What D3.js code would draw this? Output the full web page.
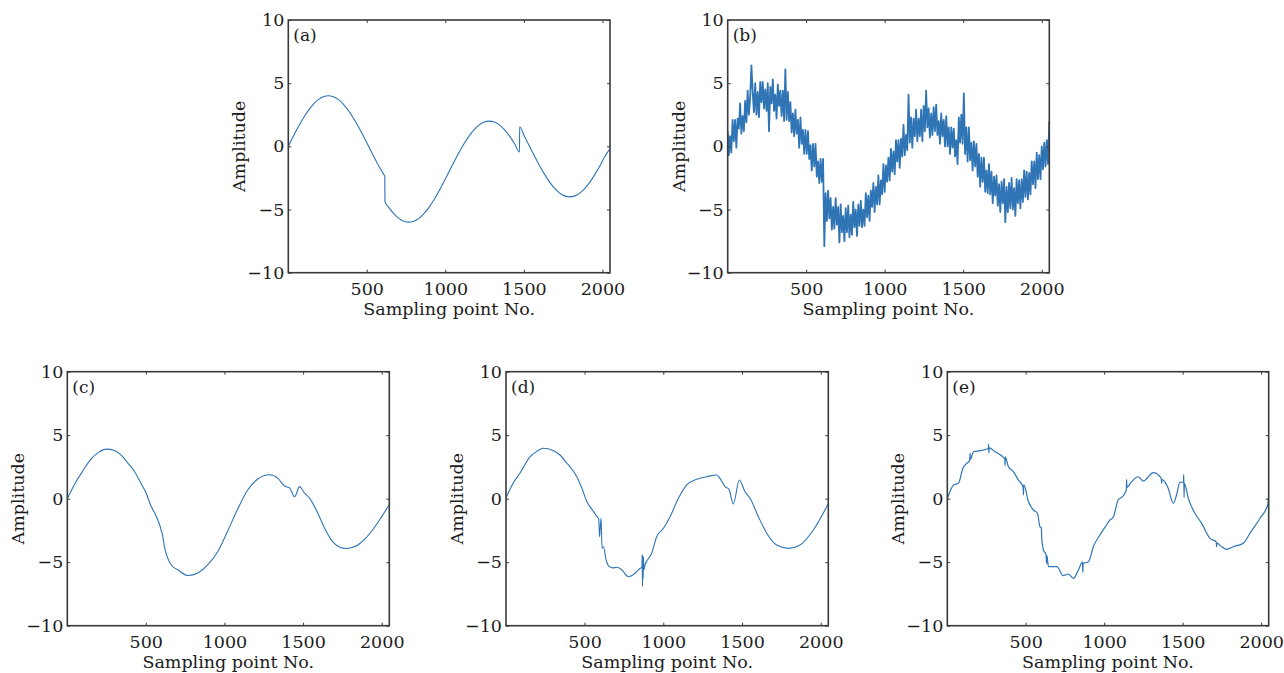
<!DOCTYPE html>
<html>
<head>
<meta charset="utf-8">
<script src="https://cdn.jsdelivr.net/npm/d3@7"></script>
<style>
  body { margin: 0; background: #fff; }
  svg text { font-family: "DejaVu Serif", serif; fill: #1c1c1c; }
</style>
</head>
<body>
<svg id="chart" width="1284" height="673"></svg>
<script>
// tick labels
const xTicks = [500, 1000, 1500, 2000];
const yTicks = [-10, -5, 0, 5, 10];

// (a) original signal with two jumps
const aN = [1, 32, 64, 96, 128, 160, 192, 224, 256, 288, 320, 352, 384, 416, 448, 480, 512, 544, 576, 608, 615, 616, 640, 672, 704, 736, 768, 800, 832, 864, 896, 928, 960, 992, 1024, 1056, 1088, 1120, 1152, 1184, 1216, 1248, 1280, 1312, 1344, 1376, 1408, 1440, 1472, 1473, 1504, 1536, 1568, 1600, 1632, 1664, 1696, 1728, 1760, 1792, 1824, 1856, 1888, 1920, 1952, 1984, 2016, 2048];
const aV = [0, 0.78, 1.53, 2.22, 2.83, 3.33, 3.70, 3.92, 4.0, 3.92, 3.70, 3.33, 2.83, 2.22, 1.53, 0.78, 0, -0.78, -1.53, -2.22, -2.36, -4.38, -4.83, -5.33, -5.70, -5.92, -6.0, -5.92, -5.70, -5.33, -4.83, -4.22, -3.53, -2.78, -2.0, -1.22, -0.47, 0.22, 0.83, 1.33, 1.70, 1.92, 2.0, 1.92, 1.70, 1.33, 0.83, 0.22, -0.45, 1.55, 0.78, 0, -0.78, -1.53, -2.22, -2.83, -3.33, -3.70, -3.92, -4.0, -3.92, -3.70, -3.33, -2.83, -2.22, -1.53, -0.78, -0.2];

// (b) noisy signal, one value every 8 samples
const bStep = 8;
const bV = [
  1.2, -0.7, 0.8, -0.5, 2.1, 0.4, 2.1, -0.1, 2.2, 1.4, 3.4, 1.0, 2.4, 1.2, 3.6, 1.9, 4.4, 2.5, 3.9, 6.4, 4.3, 2.7, 5.0, 2.5, 4.3, 2.3, 5.1, 3.5, 5.1, 3.0, 4.5, 2.8,
  5.0, 1.2, 4.7, 3.4, 5.3, 2.8, 4.1, 2.2, 4.9, 3.2, 4.4, 2.4, 4.4, 2.0, 6.1, 2.1, 4.3, 2.0, 3.5, 1.1, 2.6, 0.8, 2.9, 1.0, 2.1, -0.1, 2.3, 0.2, 1.3, -0.6, 1.3, -0.6,
  1.2, -1.0, 0.1, -1.9, 0.2, -1.6, 0.2, -2.4, -1.2, -2.9, -1.0, -2.8, -1.0,
  -7.9, -3.7, -5.9, -3.5, -5.7, -4.1, -6.6, -4.8, -6.5, -4.1, -6.2, -4.8, -7.6, -4.6, -6.8, -5.5, -7.5, -4.9, -6.8, -4.7, -7.2, -5.4, -7.0, -4.4, -6.4, -5.0, -7.1, -4.6, -6.3, -4.3, -6.4, -5.0, -6.3, -3.7, -5.6, -3.9, -5.9, -3.5, -4.8, -2.9, -5.2, -3.2, -4.6, -2.3, -4.6, -2.7, -3.8, -1.4, -3.6, -1.5, -2.8,
  -0.9, -2.7, -0.2, -2.0, -0.4, -2.2, 0.5, -1.2, 0.5, -1.7, 0.6, -0.8, 1.7, -0.7, 0.9, -0.3, 4.1, 0.3, 2.3, -0.1, 2.2, 0.8, 2.9, 0.4, 2.2, 0.8, 2.9, 0.4, 3.2, 1.2, 4.4, 1.5, 3.0, 0.7, 2.6, 0.9, 3.1, 1.2, 3.3, 0.9, 2.0, 0.2, 2.6, 0.8, 2.1, 0.0, 2.4, 0.0, 1.5, -0.6, 1.5, -0.1, 1.4, -0.8, 0.5, -1.4,
  2.3, 0.3, 2.5, 0.2, 4.2, -0.6, 1.5, -1.2, 1.5, -1.1, 0.3, -1.9, 0.4, -1.6, 0.2, -2.4, -0.6, -3.2, -0.9, -2.8, -0.9, -3.6, -1.9, -3.7, -1.4, -3.8, -2.0, -4.5, -2.4, -3.9, -2.3, -4.7, -3.0, -5.2, -2.8, -4.5, -2.6, -6.0, -3.2, -5.2, -2.9, -4.9, -2.5, -5.0, -3.3, -5.5, -2.6, -4.5, -2.7, -4.9, -2.6, -4.4, -1.9, -4.0, -2.0, -4.2, -2.1, -3.8, -1.2, -3.0, -1.2, -3.3, -0.5, -2.6, -0.7, -2.6, 0.0, -1.8, 0.3, -1.6, 0.5, -1.4, 2.0
];
const bN = bV.map((v, i) => Math.max(1, i * bStep));

// (c) denoised result
const cN = [1, 50, 100, 150, 200, 250, 300, 350, 386, 420, 470, 500, 534, 560, 577, 594, 600, 604, 610, 619, 640, 661, 704, 767, 831, 894, 958, 1022, 1085, 1149, 1212, 1287, 1340, 1382, 1414, 1446, 1477, 1509, 1541, 1594, 1636, 1689, 1730, 1774, 1810, 1848, 1890, 1933, 1990, 2048];
const cV = [0, 1.2, 2.2, 3.1, 3.65, 3.9, 3.8, 3.35, 2.8, 2.3, 1.2, 0.5, -0.6, -1.2, -1.7, -2.3, -2.6, -2.7, -3.1, -3.8, -4.7, -5.2, -5.6, -6.05, -5.85, -5.2, -4.15, -2.5, -0.8, 0.7, 1.55, 1.88, 1.6, 1.0, 0.85, 0.15, 0.95, 0.45, 0.05, -1.15, -2.3, -3.4, -3.8, -3.92, -3.85, -3.65, -3.2, -2.6, -1.6, -0.45];

// (d) denoised result
const dN = [1, 50, 89, 153, 200, 237, 300, 344, 388, 451, 483, 515, 557, 582, 590, 595, 600, 605, 611, 620, 637, 658, 680, 705, 737, 779, 821, 853, 864, 866, 868, 870, 872, 874, 877, 884, 926, 958, 1001, 1043, 1096, 1149, 1212, 1276, 1339, 1360, 1392, 1417, 1445, 1483, 1519, 1551, 1604, 1657, 1720, 1795, 1868, 1953, 2048];
const dV = [0.08, 1.3, 2.0, 3.3, 3.75, 3.97, 3.8, 3.44, 2.79, 1.73, 0.82, -0.24, -1.02, -1.46, -1.6, -3.0, -2.2, -1.55, -3.9, -3.78, -4.83, -5.35, -5.45, -5.40, -5.61, -6.14, -5.87, -5.48, -5.4, -4.4, -6.9, -4.5, -6.3, -4.6, -5.6, -5.22, -4.3, -2.99, -2.33, -1.42, 0.03, 1.08, 1.53, 1.73, 1.87, 1.6, 0.95, 0.74, -0.42, 1.47, 0.55, 0.03, -1.42, -2.72, -3.65, -3.91, -3.65, -2.46, -0.4];

// (e) denoised result
const eN = [1, 41, 72, 100, 125, 144, 146, 148, 168, 210, 262, 264, 266, 268, 305, 348, 367, 369, 371, 390, 422, 454, 484, 486, 488, 518, 549, 575, 591, 600, 602, 613, 630, 633, 636, 645, 698, 740, 772, 804, 836, 862, 864, 866, 900, 931, 973, 1015, 1036, 1058, 1089, 1117, 1132, 1141, 1143, 1145, 1175, 1217, 1249, 1313, 1364, 1366, 1368, 1408, 1440, 1461, 1482, 1505, 1507, 1509, 1511, 1536, 1578, 1621, 1674, 1714, 1716, 1718, 1748, 1780, 1822, 1886, 1929, 1993, 2044, 2046, 2048];
const eV = [0.0, 1.08, 1.21, 2.39, 2.79, 3.0, 3.6, 3.1, 3.7, 3.78, 3.95, 4.3, 3.6, 4.0, 3.7, 3.36, 3.1, 2.6, 3.3, 2.52, 2.13, 1.47, 0.9, 0.3, 1.1, -0.24, -0.89, -1.15, -2.2, -2.3, -3.0, -4.04, -4.4, -5.1, -4.5, -5.35, -5.35, -6.06, -5.93, -6.27, -5.61, -5.0, -5.8, -5.1, -4.96, -3.78, -2.86, -2.07, -1.68, -1.46, -0.1, 0.16, 0.42, 0.7, 1.5, 0.9, 1.34, 1.73, 1.39, 2.05, 1.6, 1.2, 1.5, 0.82, -0.36, 0.29, 1.29, 1.3, 1.9, 0.1, 1.2, 0.03, -1.15, -1.94, -3.12, -3.4, -3.8, -3.5, -3.78, -3.99, -3.78, -3.51, -2.72, -1.54, -0.4, 0.1, -0.2];

const panels = [
  { label: "(a)", n: aN, v: aV, left: 288.3, top: 20, w: 321.7, h: 252.7, sw: 1.1 },
  { label: "(b)", n: bN, v: bV, left: 727.7, top: 20, w: 321.6, h: 252.7, sw: 1.8, linear: true },
  { label: "(c)", n: cN, v: cV, left: 67.3, top: 371.7, w: 322, h: 254, sw: 1.1 },
  { label: "(d)", n: dN, v: dV, left: 506, top: 371.7, w: 322.3, h: 254, sw: 1.1 },
  { label: "(e)", n: eN, v: eV, left: 947.3, top: 371.7, w: 321.4, h: 254, sw: 1.2 }
];

const svg = d3.select("#chart");
const lineColor = "#2f74b5";
const boxColor = "#3a3a3a";

panels.forEach((p, idx) => {
  const x = d3.scaleLinear().domain([1, 2048]).range([p.left, p.left + p.w]);
  const y = d3.scaleLinear().domain([-10, 10]).range([p.top + p.h, p.top]);
  const g = svg.append("g");

  g.append("clipPath").attr("id", "clip" + idx)
    .append("rect").attr("x", p.left).attr("y", p.top).attr("width", p.w).attr("height", p.h);

  const pts = p.n.map((n, i) => [n, p.v[i]]);
  const line = d3.line()
    .x(d => x(d[0]))
    .y(d => y(d[1]))
    .curve(p.linear ? d3.curveLinear : d3.curveMonotoneX);

  g.append("path")
    .datum(pts)
    .attr("clip-path", "url(#clip" + idx + ")")
    .attr("fill", "none")
    .attr("stroke", lineColor)
    .attr("stroke-width", p.sw)
    .attr("stroke-linejoin", "round")
    .attr("d", line);

  // axes, ticks point inward
  g.append("g")
    .attr("transform", "translate(0," + (p.top + p.h) + ")")
    .call(d3.axisBottom(x).tickValues(xTicks).tickSize(-3).tickPadding(10).tickFormat(d3.format("d")));
  g.append("g")
    .attr("transform", "translate(" + p.left + ",0)")
    .call(d3.axisLeft(y).tickValues(yTicks).tickSize(-3).tickPadding(4)
      .tickFormat(d => d < 0 ? "\u2212" + Math.abs(d) : d));
  g.append("g")
    .attr("transform", "translate(0," + p.top + ")")
    .call(d3.axisTop(x).tickValues(xTicks).tickSize(-3).tickFormat(""));
  g.append("g")
    .attr("transform", "translate(" + (p.left + p.w) + ",0)")
    .call(d3.axisRight(y).tickValues(yTicks).tickSize(-3).tickFormat(""));

  g.selectAll(".domain").remove();
  g.selectAll(".tick line").attr("stroke", boxColor).attr("stroke-width", 1);
  g.selectAll(".tick text").attr("font-family", "DejaVu Serif").attr("fill", "#1c1c1c").style("font-size", "17.5px");

  g.append("rect")
    .attr("x", p.left).attr("y", p.top)
    .attr("width", p.w).attr("height", p.h)
    .attr("fill", "none")
    .attr("stroke", boxColor)
    .attr("stroke-width", 1.6);

  // labels
  g.append("text")
    .attr("x", p.left + 5).attr("y", p.top + 21)
    .style("font-size", "17px")
    .text(p.label);

  g.append("text")
    .attr("x", p.left + p.w / 2).attr("y", p.top + p.h + 42)
    .attr("text-anchor", "middle")
    .style("font-size", "17.5px")
    .text("Sampling point No.");

  g.append("text")
    .attr("transform", "translate(" + (p.left - 43) + "," + (p.top + p.h / 2) + ")rotate(-90)")
    .attr("text-anchor", "middle")
    .style("font-size", "17.5px")
    .text("Amplitude");
});
</script>
</body>
</html>
